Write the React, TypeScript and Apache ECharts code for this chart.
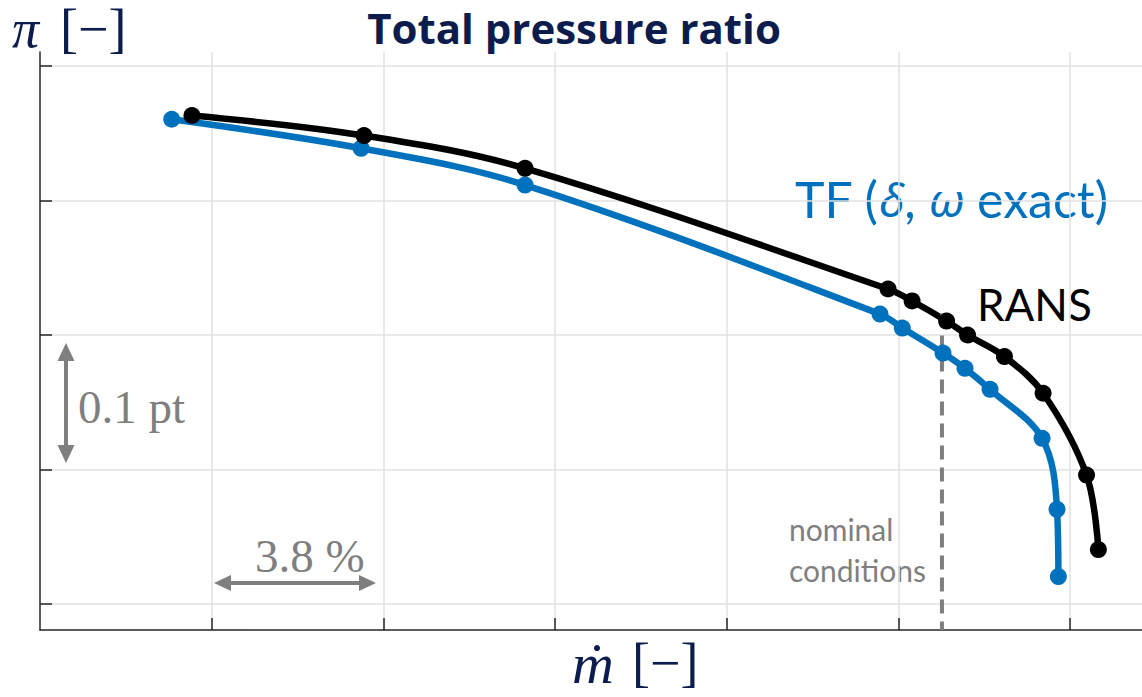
import React, { useEffect, useRef } from "react";
import * as echarts from "echarts";

// Normalised units: one x grid step = 3.8 % mass flow, one y grid step = 0.1 pt
const X_TICKS = [1, 2, 3, 4, 5, 6];
const Y_TICKS = [1, 2, 3, 4, 5];
const X_RANGE = [0, 6.418];
const Y_RANGE = [0.807, 5.104];

const RANS_X = [0.885, 1.887, 2.825, 4.939, 5.079, 5.28, 5.402, 5.617, 5.842, 6.095, 6.164];
const RANS_Y = [4.632, 4.483, 4.239, 3.342, 3.253, 3.104, 3.0, 2.84, 2.567, 1.959, 1.405];

const TF_X = [0.767, 1.87, 2.825, 4.892, 5.022, 5.259, 5.387, 5.533, 5.836, 5.923, 5.931];
const TF_Y = [4.604, 4.388, 4.115, 3.156, 3.052, 2.866, 2.752, 2.596, 2.232, 1.704, 1.204];

const NOMINAL_X = 5.253;
const NOMINAL_TOP = 3.16;

const NAVY = "#0c1d4d";
const BLUE = "#0072bd";
const GRAY = "#7f7f7f";

export default function App() {
  const ref = useRef<HTMLDivElement>(null);
  useEffect(() => {
    document.body.style.margin = "0";
    const chart = echarts.init(ref.current!, null, { renderer: "svg" });
    const axisCommon = {
      type: "value",
      axisLine: { show: true, onZero: false, lineStyle: { color: "#262626", width: 1.5 } },
      axisLabel: { show: false },
      splitLine: { show: true, lineStyle: { color: "#e2e2e2", width: 1.5 } },
    };
    const option: any = {
      animation: false,
      grid: { left: 40, right: 0, top: 52, bottom: 67, containLabel: false },
      xAxis: {
        ...axisCommon,
        min: X_RANGE[0],
        max: X_RANGE[1],
        axisTick: { show: true, inside: true, length: 12, customValues: X_TICKS, lineStyle: { color: "#262626", width: 1.5 } },
      },
      yAxis: {
        ...axisCommon,
        min: Y_RANGE[0],
        max: Y_RANGE[1],
        axisTick: { show: true, inside: true, length: 12, customValues: Y_TICKS, lineStyle: { color: "#262626", width: 1.5 } },
      },
      series: [
        {
          name: "TF",
          type: "line",
          data: TF_X.map((x, i) => [x, TF_Y[i]]),
          smooth: 0.35,
          symbol: "circle",
          symbolSize: 17,
          lineStyle: { color: BLUE, width: 6.5 },
          itemStyle: { color: BLUE },
        },
        {
          name: "RANS",
          type: "line",
          data: RANS_X.map((x, i) => [x, RANS_Y[i]]),
          smooth: 0.35,
          symbol: "circle",
          symbolSize: 17,
          lineStyle: { color: "#000000", width: 6.5 },
          itemStyle: { color: "#000000" },
        },
        {
          name: "nominal",
          type: "line",
          data: [
            [NOMINAL_X, NOMINAL_TOP],
            [NOMINAL_X, Y_RANGE[0]],
          ],
          symbol: "none",
          lineStyle: { color: GRAY, width: 4, type: [14, 8] },
        },
      ],
      graphic: [
        {
          type: "text",
          x: 574,
          y: 27,
          style: {
            text: "Total pressure ratio",
            fontFamily: "Open Sans",
            fontWeight: "bold",
            fontSize: 42,
            fill: NAVY,
            align: "center",
            verticalAlign: "middle",
          },
        },
        { type: "text", left: 12, top: 2, style: { text: "π", fontFamily: "Liberation Serif", fontStyle: "italic", fontSize: 54, fill: NAVY } },
        { type: "text", left: 60, top: 2, style: { text: "[−]", fontFamily: "Liberation Serif", fontSize: 54, fill: NAVY } },
        { type: "text", left: 572, top: 634, style: { text: "ṁ", fontFamily: "Liberation Serif", fontStyle: "italic", fontSize: 58, fill: NAVY } },
        { type: "text", left: 632, top: 636, style: { text: "[−]", fontFamily: "Liberation Serif", fontSize: 54, fill: NAVY } },
        {
          type: "text",
          left: 795,
          top: 174,
          style: {
            text: "{a|TF (}{g|δ}{a|, }{g|ω}{a| exact)}",
            rich: {
              a: { fontFamily: "Lato", fontSize: 50, fill: BLUE, color: BLUE },
              g: { fontFamily: "'Noto Sans', 'DejaVu Serif'", fontStyle: "italic", fontSize: 46, fill: BLUE, color: BLUE },
            },
          },
        },
        { type: "text", left: 977, top: 282, style: { text: "RANS", fontFamily: "Lato", fontSize: 44, fill: "#000" } },
        { type: "text", left: 78, top: 383, style: { text: "0.1 pt", fontFamily: "Liberation Serif", fontSize: 47, fill: GRAY } },
        { type: "text", left: 255, top: 532, style: { text: "3.8 %", fontFamily: "Liberation Serif", fontSize: 47, fill: GRAY } },
        {
          type: "text",
          right: 1142 - 926,
          top: 508,
          style: { text: "nominal\nconditions", fontFamily: "Lato", fontSize: 30, fill: GRAY, align: "right", lineHeight: 41 },
        },
        // vertical double arrow
        { type: "line", shape: { x1: 66, y1: 358, x2: 66, y2: 448 }, style: { stroke: GRAY, lineWidth: 4 } },
        { type: "polygon", shape: { points: [[66, 343], [57.5, 361], [74.5, 361]] }, style: { fill: GRAY } },
        { type: "polygon", shape: { points: [[66, 463], [57.5, 445], [74.5, 445]] }, style: { fill: GRAY } },
        // horizontal double arrow
        { type: "line", shape: { x1: 228, y1: 583, x2: 362, y2: 583 }, style: { stroke: GRAY, lineWidth: 4 } },
        { type: "polygon", shape: { points: [[214, 583], [231, 575], [231, 591]] }, style: { fill: GRAY } },
        { type: "polygon", shape: { points: [[376, 583], [359, 575], [359, 591]] }, style: { fill: GRAY } },
      ],
    };
    chart.setOption(option);
    return () => chart.dispose();
  }, []);
  return <div ref={ref} style={{ width: 1142, height: 697 }} />;
}
